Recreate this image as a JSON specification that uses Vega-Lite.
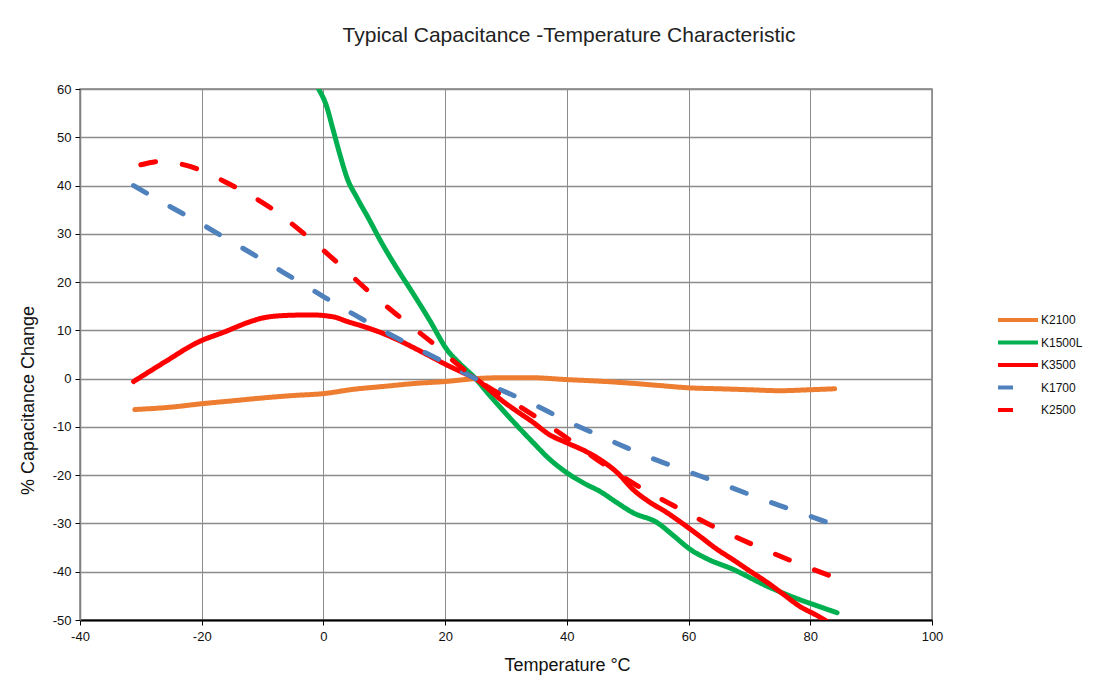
{
  "$schema": "https://vega.github.io/schema/vega-lite/v6.json",
  "autosize": "none",
  "width": 852,
  "height": 531,
  "padding": {"left": 80, "top": 89, "right": 172, "bottom": 68},
  "background": "white",
  "config": {
    "font": "Liberation Sans",
    "view": {"stroke": "#808080", "strokeWidth": 1.5}
  },
  "title": {
    "text": "Typical Capacitance -Temperature Characteristic",
    "fontSize": 21,
    "fontWeight": "normal",
    "color": "#222222",
    "anchor": "middle",
    "dx": 63,
    "offset": 37
  },
  "data": {
    "values": [
      {"s": "K2100", "t": -31, "c": -6.4}, {"s": "K2100", "t": -25, "c": -5.9}, {"s": "K2100", "t": -20, "c": -5.2}, {"s": "K2100", "t": -15, "c": -4.6}, {"s": "K2100", "t": -10, "c": -4.0}, {"s": "K2100", "t": -5, "c": -3.5}, {"s": "K2100", "t": 0, "c": -3.1}, {"s": "K2100", "t": 5, "c": -2.2}, {"s": "K2100", "t": 10, "c": -1.6}, {"s": "K2100", "t": 15, "c": -1.0}, {"s": "K2100", "t": 20, "c": -0.6}, {"s": "K2100", "t": 25, "c": 0}, {"s": "K2100", "t": 30, "c": 0.2}, {"s": "K2100", "t": 34, "c": 0.2}, {"s": "K2100", "t": 40, "c": -0.2}, {"s": "K2100", "t": 45, "c": -0.5}, {"s": "K2100", "t": 50, "c": -0.9}, {"s": "K2100", "t": 55, "c": -1.4}, {"s": "K2100", "t": 60, "c": -1.9}, {"s": "K2100", "t": 65, "c": -2.1}, {"s": "K2100", "t": 70, "c": -2.3}, {"s": "K2100", "t": 75, "c": -2.5}, {"s": "K2100", "t": 80, "c": -2.3}, {"s": "K2100", "t": 84, "c": -2.1},
      {"s": "K1500L", "t": -0.8, "c": 60}, {"s": "K1500L", "t": 0.5, "c": 56.5}, {"s": "K1500L", "t": 1.6, "c": 51.5}, {"s": "K1500L", "t": 2.8, "c": 46}, {"s": "K1500L", "t": 3.9, "c": 41.5}, {"s": "K1500L", "t": 5.5, "c": 37.5}, {"s": "K1500L", "t": 7.5, "c": 33}, {"s": "K1500L", "t": 9.4, "c": 28.5}, {"s": "K1500L", "t": 12, "c": 23}, {"s": "K1500L", "t": 14.8, "c": 17.5}, {"s": "K1500L", "t": 17.5, "c": 12}, {"s": "K1500L", "t": 20.3, "c": 6}, {"s": "K1500L", "t": 22.5, "c": 3}, {"s": "K1500L", "t": 25, "c": 0}, {"s": "K1500L", "t": 27, "c": -3}, {"s": "K1500L", "t": 29.1, "c": -6}, {"s": "K1500L", "t": 32, "c": -10}, {"s": "K1500L", "t": 34.5, "c": -13.3}, {"s": "K1500L", "t": 37, "c": -16.5}, {"s": "K1500L", "t": 40, "c": -19.5}, {"s": "K1500L", "t": 43, "c": -21.8}, {"s": "K1500L", "t": 45.5, "c": -23.4}, {"s": "K1500L", "t": 48, "c": -25.5}, {"s": "K1500L", "t": 50.9, "c": -27.8}, {"s": "K1500L", "t": 54.8, "c": -29.8}, {"s": "K1500L", "t": 57.5, "c": -32.5}, {"s": "K1500L", "t": 60.3, "c": -35.4}, {"s": "K1500L", "t": 63, "c": -37.3}, {"s": "K1500L", "t": 67.3, "c": -39.5}, {"s": "K1500L", "t": 72.9, "c": -43}, {"s": "K1500L", "t": 78.3, "c": -45.8}, {"s": "K1500L", "t": 81, "c": -47}, {"s": "K1500L", "t": 84.4, "c": -48.5},
      {"s": "K3500", "t": -31.2, "c": -0.6}, {"s": "K3500", "t": -26, "c": 3.5}, {"s": "K3500", "t": -20.7, "c": 7.5}, {"s": "K3500", "t": -16, "c": 9.8}, {"s": "K3500", "t": -12.5, "c": 11.6}, {"s": "K3500", "t": -9.8, "c": 12.6}, {"s": "K3500", "t": -6, "c": 13.1}, {"s": "K3500", "t": -2, "c": 13.2}, {"s": "K3500", "t": 1.6, "c": 12.8}, {"s": "K3500", "t": 4, "c": 11.8}, {"s": "K3500", "t": 6.6, "c": 10.8}, {"s": "K3500", "t": 9.5, "c": 9.5}, {"s": "K3500", "t": 12.1, "c": 8.1}, {"s": "K3500", "t": 15, "c": 6.3}, {"s": "K3500", "t": 17.6, "c": 4.6}, {"s": "K3500", "t": 20, "c": 3}, {"s": "K3500", "t": 23, "c": 1.2}, {"s": "K3500", "t": 25, "c": 0}, {"s": "K3500", "t": 27, "c": -2}, {"s": "K3500", "t": 29.1, "c": -4.3}, {"s": "K3500", "t": 31.5, "c": -6.5}, {"s": "K3500", "t": 34.5, "c": -9.1}, {"s": "K3500", "t": 37, "c": -11.5}, {"s": "K3500", "t": 40, "c": -13.3}, {"s": "K3500", "t": 43, "c": -15}, {"s": "K3500", "t": 45.5, "c": -16.8}, {"s": "K3500", "t": 48.3, "c": -19.5}, {"s": "K3500", "t": 50.9, "c": -23}, {"s": "K3500", "t": 53.5, "c": -25.5}, {"s": "K3500", "t": 56.5, "c": -27.8}, {"s": "K3500", "t": 59, "c": -30}, {"s": "K3500", "t": 61.9, "c": -32.7}, {"s": "K3500", "t": 64.5, "c": -35.2}, {"s": "K3500", "t": 67.3, "c": -37.5}, {"s": "K3500", "t": 70, "c": -39.8}, {"s": "K3500", "t": 72.9, "c": -42.2}, {"s": "K3500", "t": 75.5, "c": -44.6}, {"s": "K3500", "t": 78.3, "c": -47.2}, {"s": "K3500", "t": 81, "c": -49}, {"s": "K3500", "t": 83, "c": -50.5},
      {"s": "K1700", "t": -31.2, "c": 40}, {"s": "K1700", "t": -25, "c": 35.5}, {"s": "K1700", "t": -20, "c": 32}, {"s": "K1700", "t": -15, "c": 28.3}, {"s": "K1700", "t": -10, "c": 24.6}, {"s": "K1700", "t": -5, "c": 20.8}, {"s": "K1700", "t": 0, "c": 17}, {"s": "K1700", "t": 5, "c": 13.3}, {"s": "K1700", "t": 10, "c": 9.8}, {"s": "K1700", "t": 15, "c": 6.5}, {"s": "K1700", "t": 20, "c": 3.3}, {"s": "K1700", "t": 25, "c": 0}, {"s": "K1700", "t": 30, "c": -2.8}, {"s": "K1700", "t": 35, "c": -5.6}, {"s": "K1700", "t": 40, "c": -8.8}, {"s": "K1700", "t": 45, "c": -11.6}, {"s": "K1700", "t": 50, "c": -14.4}, {"s": "K1700", "t": 55, "c": -17}, {"s": "K1700", "t": 60, "c": -19.3}, {"s": "K1700", "t": 65, "c": -21.6}, {"s": "K1700", "t": 70, "c": -24}, {"s": "K1700", "t": 75, "c": -26.3}, {"s": "K1700", "t": 80, "c": -28.5}, {"s": "K1700", "t": 85, "c": -30.8},
      {"s": "K2500", "t": -30, "c": 44.3}, {"s": "K2500", "t": -26.8, "c": 45}, {"s": "K2500", "t": -21.8, "c": 43.9}, {"s": "K2500", "t": -15.3, "c": 40.2}, {"s": "K2500", "t": -8.7, "c": 35.4}, {"s": "K2500", "t": -2.6, "c": 29.4}, {"s": "K2500", "t": 2.3, "c": 24}, {"s": "K2500", "t": 7.7, "c": 17.8}, {"s": "K2500", "t": 13.1, "c": 12.2}, {"s": "K2500", "t": 18.7, "c": 6.6}, {"s": "K2500", "t": 22, "c": 3}, {"s": "K2500", "t": 25, "c": 0}, {"s": "K2500", "t": 30, "c": -4}, {"s": "K2500", "t": 35, "c": -8}, {"s": "K2500", "t": 40, "c": -12.3}, {"s": "K2500", "t": 46.6, "c": -18.2}, {"s": "K2500", "t": 52, "c": -22.5}, {"s": "K2500", "t": 58.1, "c": -26.7}, {"s": "K2500", "t": 64, "c": -30.6}, {"s": "K2500", "t": 70.6, "c": -34.4}, {"s": "K2500", "t": 77.2, "c": -37.9}, {"s": "K2500", "t": 84.9, "c": -41.6}
    ]
  },
  "mark": {"type": "line", "interpolate": "monotone", "strokeWidth": 5, "strokeCap": "round", "clip": true},
  "encoding": {
    "x": {
      "field": "t", "type": "quantitative",
      "scale": {"domain": [-40, 100], "nice": false},
      "axis": {
        "title": "Temperature °C", "titleFontSize": 18, "titleFontWeight": "normal", "titleColor": "#111", "titleX": 487, "titleY": 36,
        "values": [-40, -20, 0, 20, 40, 60, 80, 100],
        "labelExpr": "replace(datum.label, '\u2212', '-')",
        "labelFlush": false,
        "labelFontSize": 13, "labelColor": "#111", "labelPadding": 5,
        "domainColor": "#000", "domainWidth": 2,
        "tickColor": "#000", "tickSize": 5,
        "gridColor": "#8c8c8c", "gridWidth": 1, "gridOpacity": 1
      }
    },
    "y": {
      "field": "c", "type": "quantitative",
      "scale": {"domain": [-50, 60], "nice": false},
      "axis": {
        "title": "% Capacitance Change", "titleFontSize": 18, "titleFontWeight": "normal", "titleColor": "#111", "titleY": 311, "titleX": -43,
        "values": [-50, -40, -30, -20, -10, 0, 10, 20, 30, 40, 50, 60],
        "labelExpr": "replace(datum.label, '\u2212', '-')",
        "labelFlush": false,
        "labelFontSize": 13, "labelColor": "#111", "labelPadding": 4,
        "domainColor": "#808080", "domainWidth": 1.5,
        "tickColor": "#000", "tickSize": 5,
        "gridColor": "#8c8c8c", "gridWidth": 1.5, "gridOpacity": 1
      }
    },
    "color": {
      "field": "s", "type": "nominal",
      "scale": {"domain": ["K2100", "K1500L", "K3500", "K1700", "K2500"], "range": ["#ED7D31", "#00B050", "#FF0000", "#4F81BD", "#FF0000"]},
      "legend": {
        "title": null, "orient": "none", "legendX": 929, "legendY": 222,
        "symbolType": "M-3,0L3,0", "symbolSize": 178, "symbolStrokeWidth": 4,
        "labelFontSize": 12, "labelColor": "#111", "labelOffset": 14, "rowPadding": 5.5
      }
    },
    "strokeDash": {
      "field": "s", "type": "nominal",
      "scale": {"domain": ["K2100", "K1500L", "K3500", "K1700", "K2500"], "range": [[1, 0], [1, 0], [1, 0], [15, 27], [15, 27]]},
      "legend": null
    }
  }
}
